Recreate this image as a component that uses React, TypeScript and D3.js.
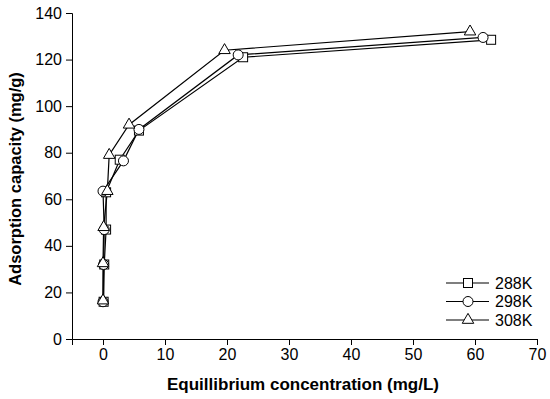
import React, { useEffect, useRef } from 'react';
import * as d3 from 'd3';

interface Pt {
  x: number;
  y: number;
}

const seriesNames = ['288K', '298K', '308K'];
const seriesShapes = ['square', 'circle', 'triangle'];

const data288: Pt[] = [
  { x: 0.1, y: 16 }, { x: 0.2, y: 32 }, { x: 0.5, y: 47 }, { x: 0.5, y: 63 },
  { x: 2.7, y: 77 }, { x: 5.8, y: 89.5 }, { x: 22.6, y: 121 }, { x: 62.6, y: 128.5 },
];
const data298: Pt[] = [
  { x: 0, y: 16 }, { x: 0.1, y: 32 }, { x: 0.2, y: 47 }, { x: 0, y: 63.5 },
  { x: 3.3, y: 76.5 }, { x: 5.8, y: 90 }, { x: 21.8, y: 122 }, { x: 61.3, y: 129.5 },
];
const data308: Pt[] = [
  { x: 0, y: 16.5 }, { x: 0, y: 32.5 }, { x: 0.1, y: 48 }, { x: 0.7, y: 63.5 },
  { x: 1, y: 79 }, { x: 4.2, y: 92 }, { x: 19.6, y: 124 }, { x: 59.2, y: 132 },
];
const allSeries = [data288, data298, data308];

const xTicks = [0, 10, 20, 30, 40, 50, 60, 70];
const yTicks = [0, 20, 40, 60, 80, 100, 120, 140];

const drawMarker = (g: d3.Selection<SVGGElement, unknown, null, undefined>, shape: string, cx: number, cy: number) => {
  if (shape === 'square') {
    g.append('rect').attr('x', cx - 4.5).attr('y', cy - 4.5).attr('width', 9).attr('height', 9)
      .attr('fill', 'white').attr('stroke', 'black').attr('stroke-width', 1);
  } else if (shape === 'circle') {
    g.append('circle').attr('cx', cx).attr('cy', cy).attr('r', 5)
      .attr('fill', 'white').attr('stroke', 'black').attr('stroke-width', 1);
  } else {
    const s = 11.5;
    const h = s * Math.sqrt(3) / 2;
    g.append('path')
      .attr('d', `M${cx},${cy - h * 2 / 3}L${cx + s / 2},${cy + h / 3}L${cx - s / 2},${cy + h / 3}Z`)
      .attr('fill', 'white').attr('stroke', 'black').attr('stroke-width', 1);
  }
};

const App: React.FC = () => {
  const ref = useRef<SVGSVGElement>(null);

  useEffect(() => {
    if (!ref.current) return;
    const svg = d3.select(ref.current);
    svg.selectAll('*').remove();

    const left = 72, right = 537, top = 13, bottom = 339;
    const x = d3.scaleLinear().domain([-5, 70]).range([left, right]);
    const y = d3.scaleLinear().domain([0, 140]).range([bottom, top]);
    const font = 'Arial, "Liberation Sans", sans-serif';

    // x axis
    const gx = svg.append('g').attr('transform', `translate(0,${bottom})`);
    gx.call(d3.axisBottom(x).tickValues(d3.range(-5, 71, 5)).tickSize(4).tickFormat(() => ''));
    gx.call(d3.axisBottom(x).tickValues(xTicks).tickSize(6).tickPadding(4).tickFormat(d3.format('d')));
    gx.selectAll('path.domain').attr('stroke', 'black');
    gx.selectAll('line').attr('stroke', 'black');
    gx.selectAll('text').style('font-size', '16px').style('font-family', font).attr('fill', 'black');

    // y axis
    const gy = svg.append('g').attr('transform', `translate(${left},0)`);
    gy.call(d3.axisLeft(y).tickValues(d3.range(0, 141, 10)).tickSize(4).tickFormat(() => ''));
    gy.call(d3.axisLeft(y).tickValues(yTicks).tickSize(6).tickPadding(4).tickFormat(d3.format('d')));
    gy.selectAll('path.domain').attr('stroke', 'black');
    gy.selectAll('line').attr('stroke', 'black');
    gy.selectAll('text').style('font-size', '16px').style('font-family', font).attr('fill', 'black');

    const line = d3.line<Pt>().x(d => x(d.x)).y(d => y(d.y));

    allSeries.forEach((s) => {
      svg.append('path').datum(s)
        .attr('fill', 'none').attr('stroke', 'black').attr('stroke-width', 1.2)
        .attr('d', line);
    });
    allSeries.forEach((s, i) => {
      const g = svg.append('g');
      s.forEach(p => drawMarker(g, seriesShapes[i], x(p.x), y(p.y)));
    });

    // legend
    seriesNames.forEach((name, i) => {
      const ly = 283 + i * 18.5;
      const g = svg.append('g');
      g.append('line').attr('x1', 446).attr('x2', 489).attr('y1', ly).attr('y2', ly)
        .attr('stroke', 'black').attr('stroke-width', 1.2);
      drawMarker(g, seriesShapes[i], 468, ly);
      g.append('text').attr('x', 495).attr('y', ly).attr('dy', '0.35em')
        .style('font-size', '16px').style('font-family', font).text(name);
    });

    svg.append('text')
      .attr('x', 303).attr('y', 390)
      .style('text-anchor', 'middle').style('font-size', '17px').style('font-weight', 'bold')
      .style('font-family', font).text('Equillibrium concentration (mg/L)');

    svg.append('text')
      .attr('transform', `translate(21,179) rotate(-90)`)
      .style('text-anchor', 'middle').style('font-size', '16.5px').style('font-weight', 'bold')
      .style('font-family', font).text('Adsorption capacity (mg/g)');
  }, []);

  return <svg ref={ref} width={550} height={399} style={{ position: 'absolute', left: 0, top: 0, background: 'white' }}></svg>;
};

export default App;
